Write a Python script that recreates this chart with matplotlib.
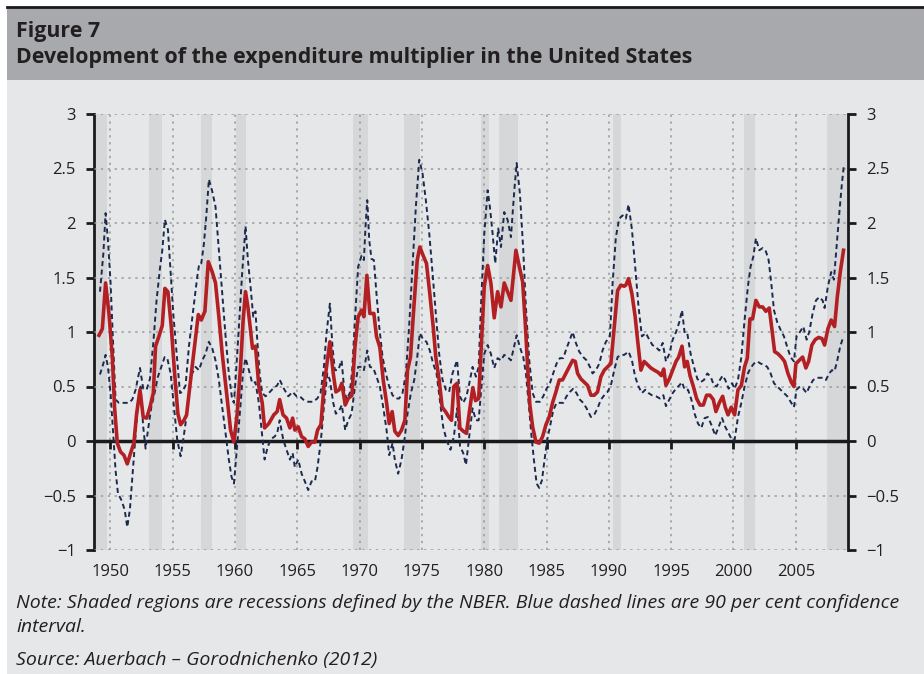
import matplotlib
matplotlib.use('Agg')
import matplotlib.pyplot as plt
from matplotlib.patches import Rectangle
from matplotlib.lines import Line2D

DPI = 100
W, H = 924, 674
BG = '#e6e7e9'
BAND = '#a7a9ac'
SHADE = '#d6d7d9'
RED = '#b32024'
NAVY = '#1b2a4e'
FONT = ['Open Sans', 'DejaVu Sans']

title_1 = 'Figure 7'
title_2 = 'Development of the expenditure multiplier in the United States'
note_1 = 'Note: Shaded regions are recessions defined by the NBER. Blue dashed lines are 90 per cent confidence'
note_2 = 'interval.'
source = 'Source: Auerbach \u2013 Gorodnichenko (2012)'

# recession bands as drawn in the figure (fractional years)
rec_start = [1948.6, 1953.1, 1957.25, 1960.05, 1969.5, 1973.56, 1979.73, 1981.2, 1990.3, 2000.82, 2007.5]
rec_end = [1949.7, 1954.1, 1958.15, 1960.9, 1970.7, 1974.84, 1980.4, 1982.68, 1990.97, 2001.7, 2009.3]

# multiplier, point estimate
mid_x = [1949.08, 1949.35, 1949.61, 1949.88, 1950.15, 1950.33, 1950.55, 1950.81, 1951.08, 1951.35,
         1951.62, 1951.88, 1952.10, 1952.37, 1952.63, 1952.90, 1953.17, 1953.44, 1953.62, 1953.89,
         1954.16, 1954.37, 1954.61, 1954.88, 1955.15, 1955.41, 1955.63, 1955.90, 1956.11, 1956.43,
         1956.75, 1957.05, 1957.29, 1957.58, 1957.85, 1958.17, 1958.43, 1958.70, 1958.97, 1959.32,
         1959.64, 1959.91, 1960.17, 1960.44, 1960.65, 1960.84, 1961.03, 1961.24, 1961.40, 1961.64,
         1961.91, 1962.18, 1962.37, 1962.71, 1963.11, 1963.38, 1963.58, 1963.85, 1964.13, 1964.40,
         1964.62, 1964.80, 1965.07, 1965.34, 1965.60, 1965.87, 1966.14, 1966.41, 1966.62, 1966.89,
         1967.13, 1967.61, 1967.88, 1968.09, 1968.36, 1968.57, 1968.84, 1969.08, 1969.38, 1969.62,
         1969.88, 1970.15, 1970.34, 1970.58, 1970.82, 1971.14, 1971.35, 1971.62, 1971.89, 1972.16,
         1972.37, 1972.61, 1972.82, 1973.09, 1973.36, 1973.63, 1973.84, 1974.08, 1974.35, 1974.62,
         1974.83, 1975.10, 1975.36, 1975.63, 1975.90, 1976.11, 1976.38, 1976.62, 1976.89, 1977.16,
         1977.37, 1977.56, 1977.82, 1978.04, 1978.31, 1978.57, 1978.82, 1979.08, 1979.30, 1979.55,
         1979.73, 1980.00, 1980.27, 1980.53, 1980.80, 1981.07, 1981.34, 1981.60, 1981.87, 1982.14,
         1982.54, 1982.81, 1983.08, 1983.29, 1983.48, 1983.66, 1983.88, 1984.15, 1984.41, 1984.68,
         1984.95, 1985.21, 1985.48, 1985.75, 1986.02, 1986.28, 1986.55, 1986.82, 1987.09, 1987.30,
         1987.49, 1987.75, 1988.02, 1988.29, 1988.56, 1988.82, 1989.09, 1989.36, 1989.63, 1989.89,
         1990.16, 1990.43, 1990.70, 1990.96, 1991.23, 1991.36, 1991.58, 1991.85, 1992.11, 1992.30,
         1992.57, 1992.83, 1993.10, 1993.37, 1993.64, 1993.95, 1994.21, 1994.40, 1994.58, 1994.85,
         1995.12, 1995.39, 1995.60, 1995.87, 1996.08, 1996.29, 1996.51, 1996.78, 1997.04, 1997.31,
         1997.58, 1997.84, 1998.11, 1998.38, 1998.59, 1998.86, 1999.13, 1999.34, 1999.56, 1999.82,
         2000.09, 2000.36, 2000.63, 2000.89, 2001.11, 2001.32, 2001.53, 2001.80, 2002.07, 2002.34,
         2002.60, 2002.87, 2003.09, 2003.30, 2003.57, 2003.83, 2004.10, 2004.37, 2004.64, 2004.85,
         2005.01, 2005.28, 2005.55, 2005.81, 2006.03, 2006.29, 2006.56, 2006.83, 2007.10, 2007.31,
         2007.58, 2007.84, 2008.11, 2008.33, 2008.57, 2008.83]
mid_y = [0.97, 1.03, 1.45, 1.17, 0.77, 0.31, -0.02, -0.10, -0.13, -0.21,
         -0.11, -0.02, 0.25, 0.47, 0.22, 0.21, 0.31, 0.44, 0.87, 0.96,
         1.06, 1.40, 1.37, 1.05, 0.62, 0.25, 0.15, 0.19, 0.24, 0.56,
         0.87, 1.16, 1.11, 1.19, 1.645, 1.55, 1.45, 1.14, 0.80, 0.44,
         0.10, -0.01, 0.25, 0.68, 1.11, 1.37, 1.23, 1.02, 0.85, 0.87,
         0.50, 0.35, 0.12, 0.16, 0.24, 0.27, 0.38, 0.24, 0.21, 0.12,
         0.21, 0.10, 0.13, 0.04, 0.02, -0.05, -0.01, -0.01, 0.10, 0.15,
         0.50, 0.91, 0.62, 0.45, 0.47, 0.53, 0.33, 0.39, 0.42, 0.86,
         1.14, 1.20, 1.14, 1.52, 1.17, 1.17, 0.96, 0.86, 0.56, 0.35,
         0.16, 0.27, 0.09, 0.05, 0.10, 0.19, 0.65, 0.77, 1.23, 1.66,
         1.78, 1.70, 1.63, 1.35, 1.05, 0.77, 0.56, 0.31, 0.27, 0.22,
         0.19, 0.50, 0.53, 0.12, 0.09, 0.07, 0.28, 0.49, 0.37, 0.39,
         0.80, 1.42, 1.61, 1.45, 1.13, 1.37, 1.23, 1.45, 1.37, 1.29,
         1.75, 1.60, 1.46, 1.08, 0.68, 0.33, 0.13, -0.01, -0.02, 0.04,
         0.15, 0.22, 0.35, 0.45, 0.56, 0.56, 0.62, 0.68, 0.74, 0.73,
         0.62, 0.57, 0.54, 0.51, 0.42, 0.42, 0.45, 0.59, 0.65, 0.68,
         0.71, 1.05, 1.38, 1.43, 1.42, 1.43, 1.49, 1.35, 1.14, 0.93,
         0.65, 0.73, 0.70, 0.67, 0.65, 0.63, 0.60, 0.66, 0.51, 0.57,
         0.65, 0.73, 0.77, 0.87, 0.68, 0.73, 0.60, 0.50, 0.39, 0.33,
         0.33, 0.42, 0.42, 0.38, 0.27, 0.35, 0.41, 0.31, 0.24, 0.31,
         0.24, 0.47, 0.51, 0.68, 0.76, 1.12, 1.12, 1.29, 1.23, 1.23,
         1.19, 1.22, 1.02, 0.82, 0.80, 0.77, 0.73, 0.62, 0.54, 0.50,
         0.71, 0.74, 0.77, 0.67, 0.73, 0.88, 0.93, 0.95, 0.94, 0.88,
         1.03, 1.11, 1.05, 1.32, 1.55, 1.75]

# upper bound of the 90% band
up_x = [1949.16, 1949.43, 1949.61, 1949.80, 1950.01, 1950.20, 1950.41, 1950.68, 1951.08, 1951.48,
        1951.75, 1952.02, 1952.37, 1952.63, 1952.90, 1953.17, 1953.44, 1953.70, 1953.97, 1954.16,
        1954.37, 1954.61, 1954.83, 1955.04, 1955.31, 1955.58, 1955.76, 1956.03, 1956.30, 1956.64,
        1956.97, 1957.13, 1957.29, 1957.50, 1957.69, 1957.90, 1958.17, 1958.43, 1958.70, 1958.97,
        1959.24, 1959.50, 1959.77, 1959.91, 1960.04, 1960.31, 1960.57, 1960.84, 1961.03, 1961.24,
        1961.46, 1961.64, 1961.78, 1961.97, 1962.18, 1962.45, 1962.71, 1963.04, 1963.38, 1963.59,
        1963.92, 1964.27, 1964.62, 1964.94, 1965.20, 1965.47, 1965.87, 1966.27, 1966.60, 1966.86,
        1967.13, 1967.34, 1967.61, 1967.82, 1968.01, 1968.28, 1968.55, 1968.76, 1968.95, 1969.21,
        1969.40, 1969.62, 1969.88, 1970.15, 1970.34, 1970.47, 1970.61, 1970.77, 1970.95, 1971.14,
        1971.35, 1971.57, 1971.84, 1972.10, 1972.37, 1972.64, 1972.90, 1973.17, 1973.44, 1973.71,
        1973.97, 1974.24, 1974.51, 1974.78, 1975.04, 1975.31, 1975.58, 1975.85, 1976.11, 1976.38,
        1976.65, 1976.92, 1977.18, 1977.45, 1977.82, 1978.04, 1978.31, 1978.57, 1978.80, 1979.06,
        1979.33, 1979.55, 1979.73, 1980.00, 1980.27, 1980.45, 1980.67, 1980.88, 1981.12, 1981.34,
        1981.60, 1981.87, 1982.14, 1982.41, 1982.60, 1982.86, 1983.13, 1983.34, 1983.61, 1983.88,
        1984.15, 1984.47, 1984.73, 1985.00, 1985.27, 1985.53, 1985.80, 1986.07, 1986.34, 1986.60,
        1986.87, 1987.09, 1987.35, 1987.62, 1987.94, 1988.21, 1988.48, 1988.69, 1988.96, 1989.23,
        1989.49, 1989.76, 1990.08, 1990.30, 1990.56, 1990.83, 1991.10, 1991.36, 1991.58, 1991.85,
        1992.11, 1992.38, 1992.65, 1992.97, 1993.24, 1993.50, 1993.78, 1994.05, 1994.32, 1994.58,
        1994.85, 1995.12, 1995.39, 1995.65, 1995.87, 1996.08, 1996.29, 1996.56, 1996.83, 1997.10,
        1997.36, 1997.63, 1997.90, 1998.17, 1998.43, 1998.65, 1998.91, 1999.13, 1999.34, 1999.61,
        1999.88, 2000.09, 2000.36, 2000.63, 2000.89, 2001.16, 2001.37, 2001.59, 2001.80, 2002.07,
        2002.34, 2002.60, 2002.82, 2003.03, 2003.25, 2003.51, 2003.78, 2004.05, 2004.32, 2004.58,
        2004.85, 2005.06, 2005.33, 2005.60, 2005.87, 2006.08, 2006.35, 2006.62, 2006.88, 2007.15,
        2007.31, 2007.58, 2007.84, 2008.06, 2008.27, 2008.49, 2008.70, 2008.86]
up_y = [1.37, 1.72, 2.09, 1.84, 1.45, 0.93, 0.38, 0.35, 0.35, 0.35,
        0.38, 0.47, 0.67, 0.48, 0.47, 0.57, 0.90, 1.29, 1.58, 1.75,
        2.03, 1.94, 1.54, 1.17, 0.80, 0.44, 0.45, 0.51, 0.87, 1.20,
        1.51, 1.63, 1.63, 1.81, 2.06, 2.40, 2.29, 2.15, 1.75, 1.35,
        0.96, 0.62, 0.38, 0.35, 0.56, 1.05, 1.54, 1.97, 1.66, 1.42,
        1.14, 1.19, 0.93, 0.62, 0.44, 0.41, 0.44, 0.48, 0.51, 0.56,
        0.48, 0.41, 0.45, 0.41, 0.41, 0.38, 0.36, 0.36, 0.39, 0.44,
        0.68, 0.99, 1.26, 0.86, 0.65, 0.65, 0.74, 0.47, 0.38, 0.44,
        0.65, 1.11, 1.60, 1.70, 1.66, 1.97, 2.21, 1.84, 1.67, 1.66,
        1.35, 1.05, 0.77, 0.62, 0.50, 0.42, 0.39, 0.39, 0.44, 0.62,
        1.05, 1.60, 2.15, 2.58, 2.46, 2.21, 1.91, 1.54, 1.17, 0.80,
        0.56, 0.47, 0.45, 0.62, 0.74, 0.41, 0.35, 0.41, 0.53, 0.68,
        0.59, 0.68, 1.23, 1.90, 2.30, 2.15, 1.90, 1.63, 1.95, 1.78,
        2.10, 2.03, 1.87, 2.30, 2.55, 2.27, 1.75, 1.23, 0.74, 0.44,
        0.36, 0.36, 0.41, 0.48, 0.53, 0.62, 0.71, 0.76, 0.76, 0.85,
        0.93, 1.00, 0.90, 0.82, 0.77, 0.74, 0.68, 0.62, 0.65, 0.71,
        0.83, 0.91, 0.96, 1.45, 1.87, 2.04, 2.07, 2.04, 2.17, 1.94,
        1.60, 1.23, 0.96, 0.99, 0.93, 0.88, 0.86, 0.83, 0.90, 0.73,
        0.80, 0.93, 1.00, 1.09, 1.20, 0.99, 0.99, 0.80, 0.68, 0.57,
        0.54, 0.56, 0.62, 0.59, 0.51, 0.50, 0.56, 0.60, 0.56, 0.48,
        0.53, 0.48, 0.56, 0.77, 1.11, 1.42, 1.60, 1.69, 1.86, 1.75,
        1.77, 1.74, 1.66, 1.45, 1.20, 1.09, 1.02, 0.96, 0.86, 0.77,
        0.73, 0.96, 1.00, 1.05, 0.93, 1.00, 1.17, 1.29, 1.32, 1.29,
        1.22, 1.42, 1.55, 1.48, 1.78, 2.09, 2.36, 2.53]

# lower bound of the 90% band
lo_x = [1949.16, 1949.43, 1949.61, 1949.80, 1950.01, 1950.20, 1950.41, 1950.60, 1950.87, 1951.14,
        1951.35, 1951.56, 1951.78, 1952.02, 1952.21, 1952.42, 1952.63, 1952.82, 1953.01, 1953.28,
        1953.54, 1953.81, 1954.08, 1954.35, 1954.56, 1954.83, 1955.10, 1955.36, 1955.63, 1955.84,
        1956.06, 1956.30, 1956.56, 1956.83, 1957.10, 1957.37, 1957.63, 1957.90, 1958.17, 1958.43,
        1958.70, 1958.97, 1959.24, 1959.50, 1959.72, 1959.91, 1960.12, 1960.36, 1960.63, 1960.84,
        1961.11, 1961.38, 1961.64, 1961.91, 1962.18, 1962.37, 1962.63, 1962.90, 1963.17, 1963.38,
        1963.58, 1963.87, 1964.13, 1964.40, 1964.62, 1964.80, 1965.07, 1965.34, 1965.60, 1965.87,
        1966.14, 1966.41, 1966.62, 1966.89, 1967.13, 1967.40, 1967.61, 1967.88, 1968.09, 1968.36,
        1968.57, 1968.84, 1969.08, 1969.35, 1969.62, 1969.88, 1970.15, 1970.34, 1970.61, 1970.82,
        1971.09, 1971.35, 1971.62, 1971.89, 1972.16, 1972.37, 1972.64, 1972.82, 1973.09, 1973.36,
        1973.63, 1973.84, 1974.11, 1974.38, 1974.62, 1974.83, 1975.10, 1975.36, 1975.63, 1975.90,
        1976.17, 1976.43, 1976.70, 1976.97, 1977.29, 1977.56, 1977.82, 1978.06, 1978.31, 1978.53,
        1978.80, 1979.06, 1979.33, 1979.55, 1979.73, 1980.00, 1980.27, 1980.53, 1980.80, 1981.07,
        1981.34, 1981.60, 1981.87, 1982.14, 1982.60, 1982.86, 1983.13, 1983.34, 1983.56, 1983.77,
        1983.98, 1984.20, 1984.41, 1984.63, 1984.84, 1985.05, 1985.27, 1985.53, 1985.80, 1986.07,
        1986.34, 1986.60, 1986.87, 1987.14, 1987.40, 1987.67, 1987.94, 1988.21, 1988.56, 1988.82,
        1989.09, 1989.36, 1989.63, 1989.89, 1990.16, 1990.43, 1990.70, 1990.96, 1991.23, 1991.58,
        1991.85, 1992.11, 1992.38, 1992.65, 1992.92, 1993.18, 1993.45, 1993.78, 1994.10, 1994.37,
        1994.58, 1994.85, 1995.12, 1995.39, 1995.65, 1995.87, 1996.08, 1996.35, 1996.62, 1996.88,
        1997.15, 1997.42, 1997.68, 1997.95, 1998.22, 1998.54, 1998.81, 1999.08, 1999.34, 1999.61,
        1999.88, 2000.09, 2000.36, 2000.63, 2000.89, 2001.16, 2001.37, 2001.64, 2001.91, 2002.18,
        2002.44, 2002.71, 2002.98, 2003.25, 2003.51, 2003.78, 2004.05, 2004.32, 2004.58, 2004.85,
        2005.06, 2005.33, 2005.60, 2005.87, 2006.13, 2006.40, 2006.67, 2006.94, 2007.20, 2007.42,
        2007.68, 2007.90, 2008.11, 2008.33, 2008.57, 2008.83]
lo_y = [0.61, 0.71, 0.79, 0.68, 0.44, 0.10, -0.27, -0.48, -0.54, -0.63,
        -0.79, -0.63, -0.30, 0.07, 0.35, 0.50, 0.13, -0.07, 0.10, 0.31,
        0.44, 0.59, 0.68, 0.77, 0.76, 0.62, 0.31, 0.01, -0.14, 0.01,
        0.19, 0.44, 0.62, 0.68, 0.65, 0.74, 0.80, 0.91, 0.85, 0.74,
        0.56, 0.31, 0.07, -0.17, -0.33, -0.39, -0.11, 0.22, 0.62, 0.76,
        0.65, 0.53, 0.54, 0.35, 0.04, -0.17, -0.05, 0.02, 0.04, 0.07,
        0.19, 0.01, -0.08, -0.17, -0.11, -0.24, -0.17, -0.30, -0.37, -0.45,
        -0.37, -0.37, -0.24, 0.01, 0.31, 0.62, 0.56, 0.35, 0.25, 0.28,
        0.33, 0.10, 0.19, 0.25, 0.50, 0.68, 0.68, 0.65, 0.83, 0.68,
        0.67, 0.59, 0.50, 0.31, 0.10, -0.13, -0.02, -0.17, -0.30, -0.17,
        0.04, 0.25, 0.44, 0.56, 0.77, 0.99, 0.93, 0.91, 0.83, 0.71,
        0.62, 0.38, 0.13, 0.01, -0.08, 0.04, 0.30, -0.05, -0.11, -0.22,
        0.05, 0.30, 0.19, 0.19, 0.44, 0.80, 0.88, 0.80, 0.67, 0.76,
        0.74, 0.79, 0.77, 0.74, 0.97, 0.86, 0.77, 0.62, 0.35, 0.07,
        -0.17, -0.39, -0.43, -0.36, -0.17, 0.01, 0.13, 0.28, 0.35, 0.35,
        0.35, 0.41, 0.45, 0.48, 0.44, 0.38, 0.35, 0.30, 0.22, 0.24,
        0.30, 0.38, 0.42, 0.45, 0.51, 0.65, 0.77, 0.79, 0.79, 0.82,
        0.74, 0.59, 0.50, 0.44, 0.47, 0.44, 0.42, 0.41, 0.39, 0.42,
        0.32, 0.38, 0.44, 0.48, 0.51, 0.54, 0.47, 0.47, 0.38, 0.25,
        0.16, 0.12, 0.21, 0.22, 0.15, 0.05, 0.13, 0.21, 0.13, 0.07,
        0.01, 0.01, 0.22, 0.35, 0.50, 0.62, 0.67, 0.71, 0.73, 0.71,
        0.70, 0.68, 0.62, 0.53, 0.50, 0.47, 0.44, 0.41, 0.36, 0.31,
        0.47, 0.50, 0.48, 0.44, 0.51, 0.56, 0.58, 0.58, 0.58, 0.56,
        0.62, 0.65, 0.64, 0.74, 0.87, 0.96]

x_ticks = list(range(1950, 2010, 5))
y_ticks = [-1, -0.5, 0, 0.5, 1, 1.5, 2, 2.5, 3]


def fmt(v):
    return ('%g' % v).replace('-', '\u2212')


fig = plt.figure(figsize=(W / DPI, H / DPI), dpi=DPI)
fig.patch.set_facecolor('white')

# header band and panel background
fig.add_artist(Rectangle((7 / W, 0), 1 - 7 / W, 1 - 80 / H, transform=fig.transFigure,
                         facecolor=BG, edgecolor='none', zorder=0))
fig.add_artist(Rectangle((7 / W, 1 - 80 / H), 1 - 7 / W, 73 / H, transform=fig.transFigure,
                         facecolor=BAND, edgecolor='none', zorder=0))
fig.add_artist(Line2D([7 / W, 1], [1 - 7 / H, 1 - 7 / H], transform=fig.transFigure,
                      color='#1a1a1a', lw=2))

fig.text(16 / W, 1 - 31 / H, title_1, family=FONT, weight='bold', fontsize=15.4,
         color='#231f20', va='center', ha='left')
fig.text(16 / W, 1 - 58 / H, title_2, family=FONT, weight='bold', fontsize=15.4,
         color='#231f20', va='center', ha='left')

for txt, ypx in [(note_1, 603), (note_2, 627), (source, 660)]:
    fig.text(16 / W, 1 - ypx / H, txt, family=FONT, style='italic', fontsize=14,
             color='#231f20', va='center', ha='left')

ax = fig.add_axes([94 / W, 1 - 550 / H, (848 - 94) / W, (550 - 114) / H])
ax.set_facecolor(BG)
ax.set_xlim(1948.68, 2009.19)
ax.set_ylim(-1, 3)

for s, e in zip(rec_start, rec_end):
    ax.axvspan(s, e, color=SHADE, lw=0, zorder=1)

ax.set_xticks(x_ticks)
ax.set_xticklabels([str(t) for t in x_ticks])
ax.set_yticks(y_ticks)
ax.set_yticklabels([fmt(v) for v in y_ticks])
ax.grid(True, color='#9a9a9a', linestyle=(0, (1.5, 3)), lw=1.1, zorder=2)
ax.set_axisbelow(False)

# zero line with small year ticks hanging below it
ax.axhline(0, color='#1a1a1a', lw=2.5, zorder=3)
ax.plot(x_ticks, [0] * len(x_ticks), linestyle='none', marker=3, markersize=6,
        mew=2, color='#1a1a1a', zorder=3)

ax.plot(up_x, up_y, color=NAVY, lw=1.4, dashes=(2.6, 1.8), zorder=4)
ax.plot(lo_x, lo_y, color=NAVY, lw=1.4, dashes=(2.6, 1.8), zorder=4)
ax.plot(mid_x, mid_y, color=RED, lw=2.6, zorder=5, solid_joinstyle='round')

for side in ['top', 'bottom']:
    ax.spines[side].set_visible(False)
for side in ['left', 'right']:
    ax.spines[side].set_color('#1a1a1a')
    ax.spines[side].set_linewidth(2)

ax.tick_params(axis='x', length=0, pad=10, labelsize=12, labelcolor='#231f20')
ax.tick_params(axis='y', direction='out', length=6, width=2, color='#1a1a1a', pad=7,
               labelsize=12, labelcolor='#231f20', left=True, right=True,
               labelleft=True, labelright=True)
for lab in ax.get_xticklabels() + ax.get_yticklabels():
    lab.set_family(FONT)
for t in ax.yaxis.get_major_ticks():
    t.label2.set_family(FONT)

fig.savefig('out.png', dpi=DPI, facecolor=fig.get_facecolor())
